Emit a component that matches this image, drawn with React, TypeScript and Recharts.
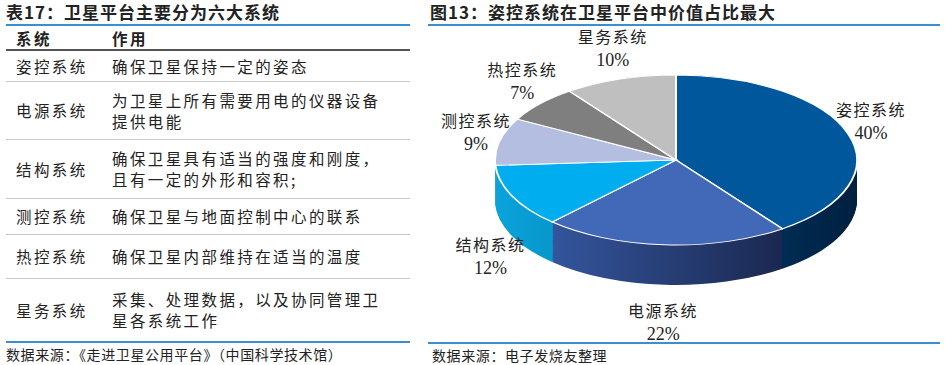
import { PieChart, Pie, Cell } from 'recharts';

// 表17 table
const tableSystems = ['姿控系统', '电源系统', '结构系统', '测控系统', '热控系统', '星务系统'];
const tableRoles = [
  '确保卫星保持一定的姿态',
  '为卫星上所有需要用电的仪器设备\n提供电能',
  '确保卫星具有适当的强度和刚度，\n且有一定的外形和容积;',
  '确保卫星与地面控制中心的联系',
  '确保卫星内部维持在适当的温度',
  '采集、处理数据，以及协同管理卫\n星各系统工作',
];

// 图13 pie
const pieNames = ['姿控系统', '电源系统', '结构系统', '测控系统', '热控系统', '星务系统'];
const pieShares = [40, 22, 12, 9, 7, 10];

const topColors = ['#00579B', '#4169B7', '#00AEEF', '#B4BEE0', '#7F7F7F', '#BFBFBF'];
const sideFrom = ['#003C70', '#34559C', '#0AA3DA', '#8C96B8', '#5A5A5A', '#8F8F8F'];
const sideTo = ['#00203F', '#1A2850', '#007FAF', '#6E7696', '#444444', '#707070'];

const pieData = pieNames.map((name, i) => ({ name, value: pieShares[i] }));

const FONT_CN = "'Noto Sans CJK SC', 'Liberation Serif', serif";
const LABEL_FONT = "'Liberation Serif', 'Noto Sans CJK SC', serif";
const BLUE = '#3A8FD3';

// pie geometry (screen px, relative to right panel)
const CX = 248;
const CY = 160;
const RX = 181;
const RY = 85;
const DEPTH = 40;
const K = RY / RX;

const rowHeights = [31, 58, 59, 36, 44, 64];

const renderLabel = (props: any) => {
  const { cx, cy, midAngle, index } = props;
  const rad = (midAngle * Math.PI) / 180;
  const s = Math.sin(rad);
  const x = cx + 205 * Math.cos(rad);
  const y = cy - 115 * s + (s < 0 ? 50 : 0);
  return (
    <text
      key={`lbl-${index}`}
      x={x}
      y={y}
      textAnchor="middle"
      fontFamily={LABEL_FONT}
      fill="#222"
    >
      <tspan x={x} dy={-8} fontSize={16} letterSpacing={1.5}>{pieNames[index]}</tspan>
      <tspan x={x} dy={23} fontSize={18}>{`${pieShares[index]}%`}</tspan>
    </text>
  );
};

const sideLayers = Array.from({ length: 44 }, (_, i) => 43 - i);

export default function App() {
  const preH = 365 / K;
  const preCY = CY / K;
  const preDepth = DEPTH / K;

  return (
    <div style={{ position: 'relative', width: 946, height: 365, background: '#fff', overflow: 'hidden', color: '#222', fontFamily: FONT_CN }}>
      <style>{'body{margin:0}'}</style>

      {/* left: table */}
      <div style={{ position: 'absolute', left: 6, top: 0, width: 404 }}>
        <div style={{ height: 24, lineHeight: '24px', fontSize: 17, fontWeight: 700, letterSpacing: 1 }}>
          表17：卫星平台主要分为六大系统
        </div>
        <div style={{ height: 2, background: BLUE }} />
        <div style={{ display: 'flex', alignItems: 'center', height: 23, fontSize: 15.5, fontWeight: 700, letterSpacing: 2.5, borderBottom: '2px solid #555' }}>
          <div style={{ width: 96, paddingLeft: 10 }}>系统</div>
          <div>作用</div>
        </div>
        {tableSystems.map((sys, i) => (
          <div
            key={sys}
            style={{
              display: 'flex',
              alignItems: 'center',
              height: rowHeights[i] - (i === tableSystems.length - 1 ? 2 : 1),
              borderBottom: i === tableSystems.length - 1 ? `2px solid ${BLUE}` : '1px solid #c8c8c8',
              fontSize: 15.5,
              letterSpacing: 2.4,
              lineHeight: '21px',
            }}
          >
            <div style={{ width: 96, paddingLeft: 10, flexShrink: 0 }}>{sys}</div>
            <div style={{ whiteSpace: 'pre-line' }}>{tableRoles[i]}</div>
          </div>
        ))}
        <div style={{ height: 22, lineHeight: '22px', fontSize: 14, letterSpacing: 0.6 }}>
          数据来源：《走进卫星公用平台》（中国科学技术馆）
        </div>
      </div>

      {/* right: title */}
      <div style={{ position: 'absolute', left: 430, top: 0, width: 512, height: 24, lineHeight: '24px', fontSize: 17, fontWeight: 700, letterSpacing: 1 }}>
        图13：姿控系统在卫星平台中价值占比最大
      </div>
      <div style={{ position: 'absolute', left: 428, top: 24, width: 512, height: 2, background: BLUE }} />

      {/* pie body, squashed into an ellipse */}
      <div style={{ position: 'absolute', left: 428, top: 0, width: 512, height: preH, transform: `scaleY(${K})`, transformOrigin: '0 0' }}>
        <PieChart width={512} height={preH} margin={{ top: 0, right: 0, bottom: 0, left: 0 }}>
          <defs>
            {pieNames.map((_, i) => (
              <linearGradient key={i} id={`side${i}`} x1="0" y1="0" x2="1" y2="0">
                <stop offset="0%" stopColor={sideFrom[i]} />
                <stop offset="100%" stopColor={sideTo[i]} />
              </linearGradient>
            ))}
          </defs>
          {sideLayers.map((step) => (
            <Pie
              key={`side-${step}`}
              data={pieData}
              dataKey="value"
              nameKey="name"
              cx={CX}
              cy={preCY + (preDepth * step) / 43}
              outerRadius={RX}
              startAngle={90}
              endAngle={-270}
              stroke="none"
              isAnimationActive={false}
            >
              {pieData.map((_, i) => (
                <Cell key={i} fill={`url(#side${i})`} />
              ))}
            </Pie>
          ))}
          <Pie
            data={pieData}
            dataKey="value"
            nameKey="name"
            cx={CX}
            cy={preCY}
            outerRadius={RX}
            startAngle={90}
            endAngle={-270}
            stroke="#fff"
            strokeWidth={2}
            isAnimationActive={false}
          >
            {pieData.map((_, i) => (
              <Cell key={i} fill={topColors[i]} />
            ))}
          </Pie>
        </PieChart>
      </div>

      {/* labels, unsquashed */}
      <div style={{ position: 'absolute', left: 428, top: 0, width: 512, height: 365 }}>
        <PieChart width={512} height={365} margin={{ top: 0, right: 0, bottom: 0, left: 0 }}>
          <Pie
            data={pieData}
            dataKey="value"
            nameKey="name"
            cx={CX}
            cy={CY}
            outerRadius={RX}
            startAngle={90}
            endAngle={-270}
            fill="none"
            stroke="none"
            label={renderLabel}
            labelLine={false}
            isAnimationActive={false}
          />
        </PieChart>
      </div>

      <div style={{ position: 'absolute', left: 428, top: 342, width: 512, height: 2, background: BLUE }} />
      <div style={{ position: 'absolute', left: 432, top: 344, height: 22, lineHeight: '22px', fontSize: 14, letterSpacing: 0.6 }}>
        数据来源：电子发烧友整理
      </div>
    </div>
  );
}
